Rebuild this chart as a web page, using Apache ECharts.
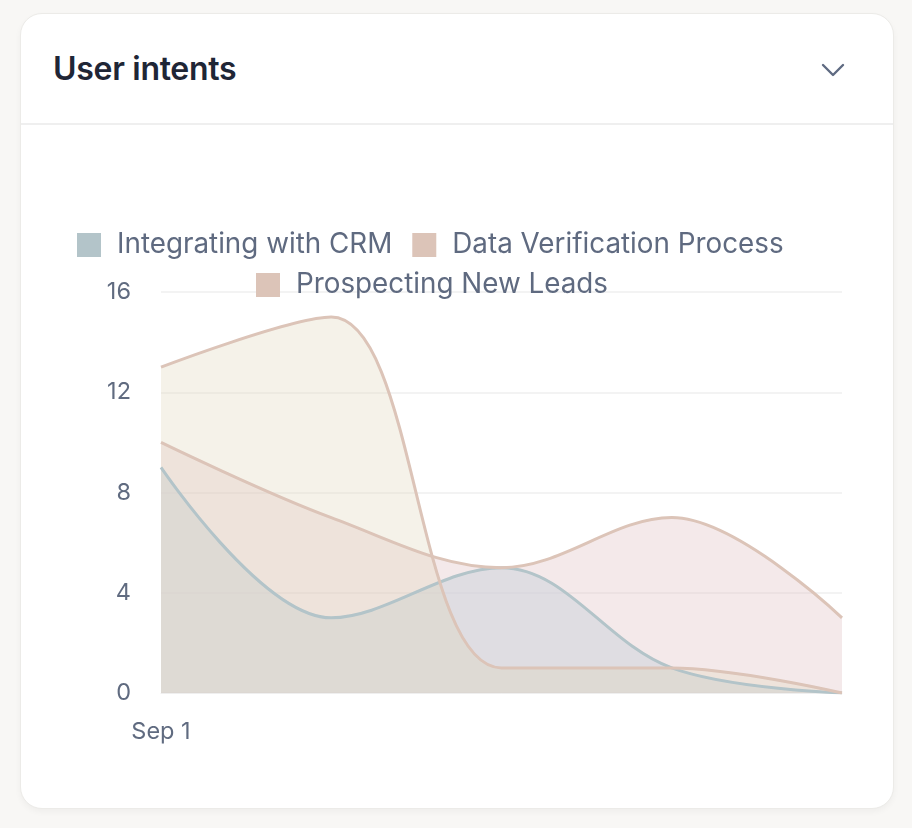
<!DOCTYPE html>
<html>
<head>
<meta charset="utf-8">
<script src="https://cdn.jsdelivr.net/npm/echarts@6/dist/echarts.min.js"></script>
<style>
  html, body { margin: 0; padding: 0; width: 912px; height: 828px; background: #f8f7f5; overflow: hidden; font-family: Inter, "Noto Sans", sans-serif; }
  .card { position: absolute; left: 20px; top: 13px; width: 874px; height: 796px; background: #fff; border: 1px solid #ecebe8; border-radius: 22px; box-shadow: 0 3px 6px rgba(0,0,0,0.04); box-sizing: border-box; }
  .header { position: absolute; left: 0; top: 0; right: 0; height: 109px; border-bottom: 2px solid #efefef; }
  .title { position: absolute; left: 32px; top: 35px; font-size: 32px; line-height: 40px; font-weight: 600; color: #1f2636; letter-spacing: -0.3px; }
  .chev { position: absolute; left: 799px; top: 46px; width: 26px; height: 20px; }
  #chart { position: absolute; left: 0; top: 0; width: 912px; height: 828px; }
</style>
</head>
<body>
<div class="card">
  <div class="header">
    <div class="title">User intents</div>
    <svg class="chev" viewBox="0 0 26 20"><polyline points="3,5 13,15 23,5" fill="none" stroke="#5f6b82" stroke-width="2.4" stroke-linecap="round" stroke-linejoin="round"/></svg>
  </div>
</div>
<div id="chart"></div>
<script>
const categories = ["Sep 1", "Sep 2", "Sep 3", "Sep 4", "Sep 5"];
const seriesNames = ["Integrating with CRM", "Data Verification Process", "Prospecting New Leads"];
const crmValues = [9, 3, 5, 1, 0];
const verificationValues = [10, 7, 5, 7, 3];
const prospectingValues = [13, 15, 1, 1, 0];
const yTicks = [0, 4, 8, 12, 16];

const chart = echarts.init(document.getElementById('chart'), null, { renderer: 'canvas' });
const legendText = { color: '#5f6a80', fontSize: 27.8, fontFamily: 'Inter', padding: [0, 0, 0, 11] };
function mkSeries(name, data, line, area) {
  return {
    name: name, type: 'line', smooth: 0.36, showSymbol: false, symbol: 'none',
    data: data,
    itemStyle: { color: line },
    lineStyle: { color: line, width: 3 },
    areaStyle: { color: area, opacity: 1 },
    emphasis: { disabled: true }
  };
}
chart.setOption({
  animation: false,
  legend: [
    { data: [seriesNames[0], seriesNames[1]], left: 72, top: 226, itemWidth: 24, itemHeight: 24, itemGap: 20, icon: 'rect', textStyle: legendText },
    { data: [seriesNames[2]], left: 251, top: 266, itemWidth: 24, itemHeight: 24, icon: 'rect', textStyle: legendText }
  ],
  grid: { left: 161, right: 70, top: 292, bottom: 135, containLabel: false },
  xAxis: {
    type: 'category', data: categories, boundaryGap: false,
    axisLine: { show: true, lineStyle: { color: '#efefef', width: 1 } },
    axisTick: { show: false },
    axisLabel: { interval: function (i) { return i === 0; }, color: '#606b80', fontSize: 23.5, fontFamily: 'Inter', margin: 27 },
  },
  yAxis: {
    type: 'value', min: yTicks[0], max: yTicks[yTicks.length - 1], interval: 4,
    axisLine: { show: false }, axisTick: { show: false },
    axisLabel: { color: '#606b80', fontSize: 23.5, fontFamily: 'Inter', margin: 30 },
    splitLine: { lineStyle: { color: '#efefef', width: 1.5 } }
  },
  series: [
    mkSeries(seriesNames[0], crmValues, '#b3c4c9', 'rgba(195,221,233,0.5)'),
    mkSeries(seriesNames[1], verificationValues, '#dcc4b8', 'rgba(218,182,185,0.3)'),
    mkSeries(seriesNames[2], prospectingValues, '#dcc4b8', 'rgba(222,212,182,0.3)')
  ]
});
</script>
</body>
</html>
